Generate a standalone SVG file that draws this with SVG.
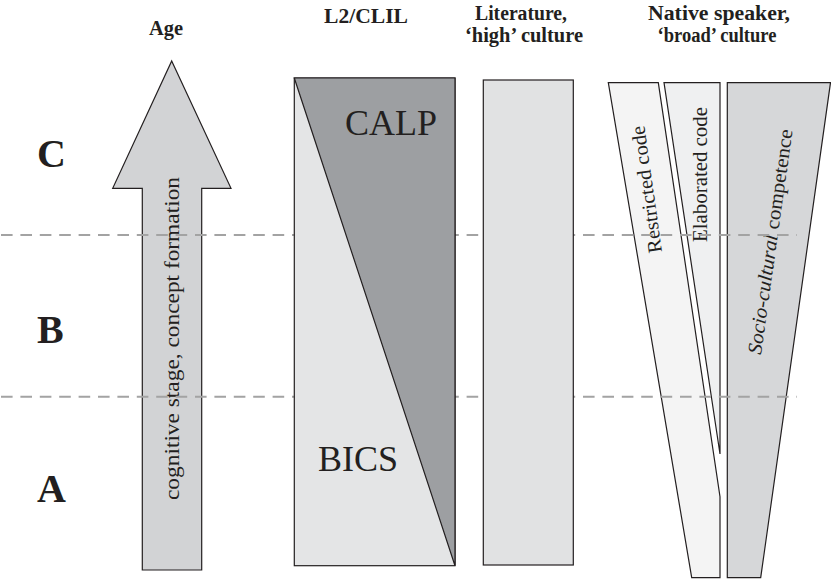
<svg xmlns="http://www.w3.org/2000/svg" width="831" height="579" viewBox="0 0 831 579">
<style>
.hdr{font-family:"Liberation Serif","Times New Roman",serif;font-weight:bold;font-size:20px;fill:#231f20;text-anchor:middle}
.row{font-family:"Liberation Serif","Times New Roman",serif;font-weight:bold;font-size:40px;fill:#231f20}
.big{font-family:"Liberation Serif","Times New Roman",serif;font-size:36px;fill:#231f20}
.lbl{font-family:"Liberation Serif","Times New Roman",serif;font-size:20px;fill:#231f20}
.shape{stroke:#231f20;stroke-width:1.2;stroke-linejoin:miter}
.dash{stroke:#a3a3a3;stroke-width:2;stroke-dasharray:11.6 7.8;fill:none}
</style>
<rect width="831" height="579" fill="#ffffff"/>
<g id="headers">
<text class="hdr" x="166" y="35" textLength="34" lengthAdjust="spacingAndGlyphs">Age</text>
<text class="hdr" x="366" y="23" textLength="84" lengthAdjust="spacingAndGlyphs">L2/CLIL</text>
<text class="hdr" x="521" y="20" textLength="92" lengthAdjust="spacingAndGlyphs">Literature,</text>
<text class="hdr" x="524" y="42" textLength="118" lengthAdjust="spacingAndGlyphs">‘high’ culture</text>
<text class="hdr" x="719" y="20" textLength="142" lengthAdjust="spacingAndGlyphs">Native speaker,</text>
<text class="hdr" x="717" y="42" textLength="119" lengthAdjust="spacingAndGlyphs">‘broad’ culture</text>
</g>
<g id="rows">
<text class="row" x="37" y="167">C</text>
<text class="row" x="37" y="343">B</text>
<text class="row" x="37" y="502">A</text>
</g>
<g id="age-arrow">
<polygon class="shape" fill="#d2d3d5" points="171.7,61 231,188.3 201.7,188.3 201.7,570 142.3,570 142.3,188.3 112.7,188.3"/>
<text class="lbl" font-size="23" transform="translate(179,500) rotate(-90)" textLength="323" lengthAdjust="spacingAndGlyphs">cognitive stage, concept formation</text>
</g>
<g id="native-speaker">
<g id="restricted-code">
<polygon class="shape" fill="#f4f4f4" points="608.3,82.7 658.3,82.7 720,496.7 720,577.7 691.7,577.7"/>
<text class="lbl" transform="translate(662,252) rotate(-98)" textLength="128" lengthAdjust="spacingAndGlyphs">Restricted code</text>
</g>
<g id="elaborated-code">
<polygon class="shape" fill="#eff0f1" points="664,82.7 720,82.7 720,454"/>
<text class="lbl" transform="translate(707,242) rotate(-90)" textLength="135" lengthAdjust="spacingAndGlyphs">Elaborated code</text>
</g>
<g id="socio-cultural">
<polygon class="shape" fill="#d6d7d9" points="727.3,82.7 830.5,82.7 760.7,577.7 727.3,577.7"/>
<text class="lbl" transform="translate(761,355) rotate(-82)" textLength="227" lengthAdjust="spacingAndGlyphs"><tspan font-style="italic">Socio-cultural</tspan> competence</text>
</g>
</g>
<g id="connectors">
<line class="dash" x1="1" y1="235" x2="797" y2="235"/>
<line class="dash" x1="1" y1="396.7" x2="797" y2="396.7"/>
</g>
<g id="l2-clil">
<rect class="shape" x="294.3" y="78" width="160.7" height="487.7" fill="#e4e5e6"/>
<polygon class="shape" fill="#9d9fa2" points="294.3,78 455,78 455,565.7"/>
<text class="big" x="345" y="135">CALP</text>
<text class="big" x="318" y="471">BICS</text>
</g>
<g id="literature">
<rect class="shape" x="483.3" y="80" width="90" height="485" fill="#e1e2e3"/>
</g>
</svg>
